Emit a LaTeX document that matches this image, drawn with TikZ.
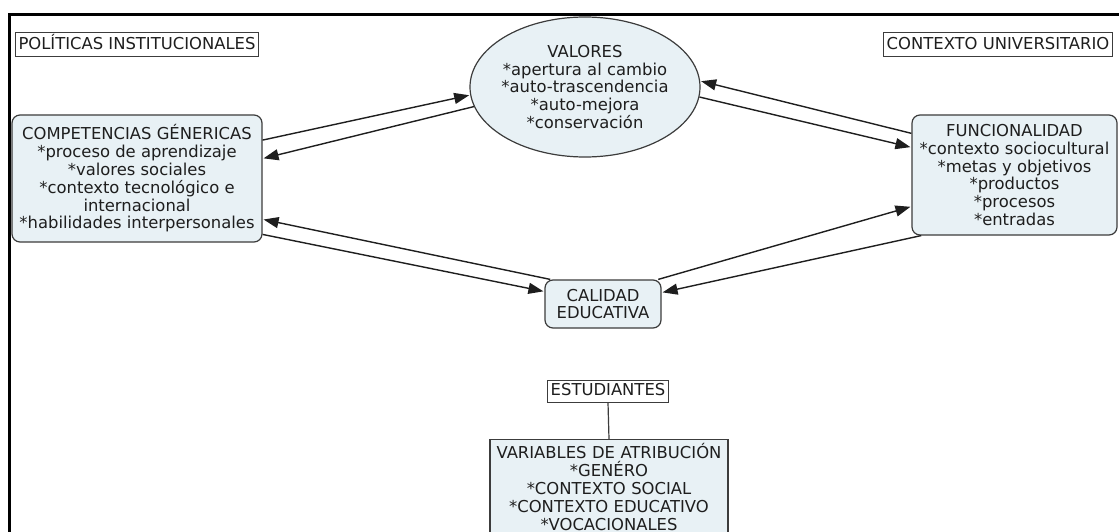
\documentclass[tikz,border=0pt]{standalone}
\usepackage{fontspec}
\setmainfont{DejaVu Sans}
\usetikzlibrary{shapes.geometric,arrows.meta}
\definecolor{boxfill}{RGB}{232,241,245}
\definecolor{edgec}{RGB}{60,60,60}
\definecolor{txt}{RGB}{30,30,30}
\begin{document}
\begin{tikzpicture}[x=1pt,y=-1pt,
  every node/.style={font=\fontsize{16.4}{17.8}\selectfont, text=txt},
  rbox/.style={draw=edgec, fill=boxfill, rounded corners=8pt, line width=1.2pt, align=center, inner sep=2pt},
  sbox/.style={draw=edgec, fill=boxfill, line width=1.2pt, align=center},
  lbl/.style={draw=edgec, fill=white, line width=1pt, inner xsep=3pt, inner ysep=0pt, minimum height=24pt, text height=12pt, text depth=3pt},
  conn/.style={draw=txt, line width=1.4pt, -{Triangle[length=15pt,width=11pt]}, shorten >=1pt},
  plain/.style={draw=edgec, line width=1.2pt}
]
\useasboundingbox (0,0) rectangle (1119,532);
\clip (0,0) rectangle (1119,532);
\fill[white] (0,0) rectangle (1119,532);
% frame
\draw[line width=3pt, black] (9,540) -- (9,15) -- (1125,15);

% label boxes
\node[lbl] (pol) at (137,45) {POLÍTICAS INSTITUCIONALES};
\node[lbl] (ctx) at (998,45) {CONTEXTO UNIVERSITARIO};
\node[lbl, minimum height=22pt] (est) at (608,391) {ESTUDIANTES};

% main concepts
\node[ellipse, draw=edgec, fill=boxfill, line width=1.2pt, minimum width=230pt, minimum height=140pt, inner sep=0pt] (valores) at (585,87) {};
\node[align=center] (valorestxt) at (valores.center) {VALORES\\{*}apertura al cambio\\{*}auto-trascendencia\\{*}auto-mejora\\{*}conservación};

\node[rbox, minimum width=250pt, minimum height=127pt] (comp) at (137,178.5)
  {COMPETENCIAS GÉNERICAS\\{*}proceso de aprendizaje\\{*}valores sociales\\{*}contexto tecnológico e\\internacional\\{*}habilidades interpersonales};

\node[rbox, minimum width=205pt, minimum height=120pt] (func) at (1014.5,175)
  {FUNCIONALIDAD\\{*}contexto sociocultural\\{*}metas y objetivos\\{*}productos\\{*}procesos\\{*}entradas};

\node[rbox, minimum width=116pt, minimum height=48pt] (calidad) at (603,304) {CALIDAD\\EDUCATIVA};

\node[sbox, anchor=north, text width=230pt, inner xsep=4pt, inner ysep=4pt] (vars) at (609,439)
  {VARIABLES DE ATRIBUCIÓN\\{*}GENÉRO\\{*}CONTEXTO SOCIAL\\{*}CONTEXTO EDUCATIVO\\{*}VOCACIONALES\\[30pt]\mbox{}};

% connectors
\draw[conn] (comp.17) -- (valores.184);
\draw[conn] (valores.190) -- (comp.9);
\draw[conn] (func.158) -- (valores.3);
\draw[conn] (valores.-5) -- (func.165);
\draw[conn] (calidad.155) -- (comp.-18);
\draw[conn] (comp.-24) -- (calidad.168);
\draw[conn] (calidad.24) -- (func.197);
\draw[conn] (func.213) -- (calidad.11);
\draw[plain] (est.south) -- (vars.north);
\end{tikzpicture}
\end{document}
